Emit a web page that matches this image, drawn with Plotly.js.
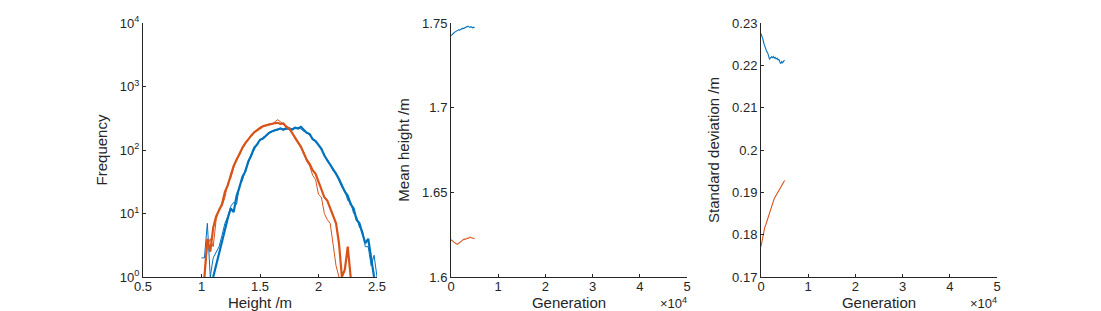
<!DOCTYPE html>
<html>
<head>
<meta charset="utf-8">
<script src="https://cdn.plot.ly/plotly-3.0.1.min.js"></script>
<style>html,body{margin:0;padding:0;background:#fff;}#chart{width:1101px;height:311px;}</style>
</head>
<body>
<div id="chart"></div>
<script>
// ---- Panel 1: height histograms (bin centres in m, counts) ----
const blueThickX = [1.100,1.125,1.150,1.175,1.200,1.225,1.250,1.275,1.300,1.325,1.350,1.375,1.400,1.425,1.450,1.475,1.500,1.525,1.550,1.575,1.600,1.625,1.650,1.675,1.700,1.725,1.750,1.775,1.800,1.825,1.850,1.875,1.900,1.925,1.950,1.975,2.000,2.025,2.050,2.075,2.100,2.125,2.150,2.175,2.200,2.225,2.250,2.275,2.300,2.325,2.350,2.375,2.400,2.425,2.450,2.475];
const blueThickY = [1,1.5,2.3,3.5,5.5,8.5,12,10.5,19,26,38,46,66,82,108,122,145,152,170,184,196,205,212,218,208,221,214,209,224,218,232,205,186,178,148,138,118,104,82,70,58,49,42,35,28,22,19,14,12,8,7,5,3.4,4,2,1];

const blueThinX = [1.000,1.025,1.050,1.075,1.100,1.125,1.150,1.175,1.200,1.225,1.250,1.275,1.300,1.325,1.350,1.375,1.400,1.425,1.450,1.475,1.500,1.525,1.550,1.575,1.600,1.625,1.650,1.675,1.700,1.725,1.750,1.775,1.800,1.825,1.850,1.875,1.900,1.925,1.950,1.975,2.000,2.025,2.050,2.075,2.100,2.125,2.150,2.175,2.200,2.225,2.250,2.275,2.300,2.325,2.350,2.375,2.400,2.425,2.450,2.475,2.500];
const blueThinY = [2,2,7,1,2,2.5,3,4.5,7,9,13,15,14,28,33,50,62,86,100,125,140,158,165,190,192,210,205,220,214,210,225,215,228,222,215,196,190,170,152,132,122,100,86,66,60,47,44,33,26,23,16,15,10,9,6,5.5,3,3,1.5,2.2,1];

const orangeThickX = [1.025,1.050,1.075,1.100,1.125,1.150,1.175,1.200,1.225,1.250,1.275,1.300,1.325,1.350,1.375,1.400,1.425,1.450,1.475,1.500,1.525,1.550,1.575,1.600,1.625,1.650,1.675,1.700,1.725,1.750,1.775,1.800,1.825,1.850,1.875,1.900,1.925,1.950,1.975,2.000,2.025,2.050,2.075,2.100,2.125,2.150,2.175,2.200,2.225,2.250,2.275];
const orangeThickY = [1,4,2.5,6,9,11,14,22,28,40,56,70,88,108,128,150,168,190,205,225,236,244,252,262,264,268,258,262,232,218,186,160,134,112,88,70,60,48,42,32,24,18,16,12,9,7,3.4,1,1.3,3,1];

const orangeThinX = [1.025,1.050,1.075,1.100,1.125,1.150,1.175,1.200,1.225,1.250,1.275,1.300,1.325,1.350,1.375,1.400,1.425,1.450,1.475,1.500,1.525,1.550,1.575,1.600,1.625,1.650,1.675,1.700,1.725,1.750,1.775,1.800,1.825,1.850,1.875,1.900,1.925,1.950,1.975,2.000,2.025,2.050,2.075,2.100,2.125,2.150,2.175];
const orangeThinY = [1,3,4,3,8,12,13,18,30,36,52,74,82,112,132,145,175,185,210,230,238,240,258,255,275,300,280,250,240,205,190,150,128,106,92,66,56,40,34,20,18,10,8,7,3,1.5,1];

// ---- Panels 2 & 3: statistics vs generation ----
const generation = [0,200,400,600,800,1000,1200,1400,1600,1800,2000,2200,2400,2600,2800,3000,3200,3400,3600,3800,4000,4200,4400,4600,4800,5000];
const meanBlue = [1.7425,1.7432,1.7438,1.7441,1.7446,1.7450,1.7452,1.7457,1.7460,1.7458,1.7463,1.7466,1.7468,1.7467,1.7470,1.7469,1.7473,1.7478,1.7481,1.7477,1.7474,1.7478,1.7475,1.7472,1.7476,1.7472];
const meanOrange = [1.6220,1.6218,1.6212,1.6206,1.6201,1.6197,1.6195,1.6194,1.6199,1.6203,1.6208,1.6212,1.6216,1.6222,1.6225,1.6221,1.6226,1.6230,1.6227,1.6232,1.6236,1.6233,1.6230,1.6232,1.6228,1.6226];
const sdBlue = [0.2275,0.2270,0.2262,0.2252,0.2244,0.2240,0.2233,0.2230,0.2222,0.2215,0.2217,0.2220,0.2218,0.2221,0.2217,0.2219,0.2215,0.2217,0.2213,0.2214,0.2208,0.2204,0.2209,0.2206,0.2210,0.2212];
const sdOrange = [0.1772,0.1785,0.1800,0.1814,0.1818,0.1823,0.1830,0.1838,0.1846,0.1855,0.1860,0.1864,0.1872,0.1879,0.1885,0.1889,0.1893,0.1898,0.1902,0.1906,0.1911,0.1914,0.1918,0.1922,0.1926,0.1928];

// tick labels
const freqTickVals = [1,10,100,1000,10000];
const freqTickText = ['10<sup>0</sup>','10<sup>1</sup>','10<sup>2</sup>','10<sup>3</sup>','10<sup>4</sup>'];
const heightTicks = [0.5,1,1.5,2,2.5];
const heightTickText = ['0.5','1','1.5','2','2.5'];
const genTickVals = [0,10000,20000,30000,40000,50000];
const genTickText = ['0','1','2','3','4','5'];
const meanTickVals = [1.6,1.65,1.7,1.75];
const meanTickText = ['1.6','1.65','1.7','1.75'];
const sdTickVals = [0.17,0.18,0.19,0.2,0.21,0.22,0.23];
const sdTickText = ['0.17','0.18','0.19','0.2','0.21','0.22','0.23'];

const BLUE = '#0072BD', ORANGE = '#D95319';
const AX = '#262626';
const FONT = 'Liberation Sans, Arial, Helvetica, sans-serif';

const traces = [
  {x: blueThickX, y: blueThickY, xaxis:'x', yaxis:'y', mode:'lines', line:{color:BLUE, width:2.2}},
  {x: blueThinX, y: blueThinY, xaxis:'x', yaxis:'y', mode:'lines', line:{color:BLUE, width:1}},
  {x: orangeThickX, y: orangeThickY, xaxis:'x', yaxis:'y', mode:'lines', line:{color:ORANGE, width:2.2}},
  {x: orangeThinX, y: orangeThinY, xaxis:'x', yaxis:'y', mode:'lines', line:{color:ORANGE, width:1}},
  {x: generation, y: meanBlue, xaxis:'x2', yaxis:'y2', mode:'lines', line:{color:BLUE, width:1.1}},
  {x: generation, y: meanOrange, xaxis:'x2', yaxis:'y2', mode:'lines', line:{color:ORANGE, width:1.1}},
  {x: generation, y: sdBlue, xaxis:'x3', yaxis:'y3', mode:'lines', line:{color:BLUE, width:1.1}},
  {x: generation, y: sdOrange, xaxis:'x3', yaxis:'y3', mode:'lines', line:{color:ORANGE, width:1.1}}
];

function axBase(extra){
  return Object.assign({
    showline:true, linecolor:AX, linewidth:1, mirror:false,
    ticks:'inside', ticklen:3, tickwidth:1, tickcolor:AX,
    showgrid:false, zeroline:false,
    tickfont:{family:FONT, size:13, color:AX},
    fixedrange:true
  }, extra);
}
const titleFont = {family:FONT, size:15, color:AX};
const yDom = [34/311, 288/311];

const layout = {
  width:1101, height:311,
  margin:{l:0,r:0,t:0,b:0},
  paper_bgcolor:'#fff', plot_bgcolor:'#fff',
  showlegend:false,
  xaxis: axBase({domain:[143/1101,377/1101], anchor:'y', range:[0.5,2.5], tickvals:heightTicks, ticktext:heightTickText,
    ticklabelstandoff:-3, title:{text:'Height /m', font:titleFont, standoff:1}}),
  yaxis: axBase({domain:yDom, anchor:'x', type:'log', range:[0,4], tickvals:freqTickVals, ticktext:freqTickText,
    title:{text:'Frequency', font:titleFont, standoff:8}}),
  xaxis2: axBase({domain:[451/1101,687/1101], anchor:'y2', range:[0,50000], tickvals:genTickVals, ticktext:genTickText,
    ticklabelstandoff:-3, title:{text:'Generation', font:titleFont, standoff:1}}),
  yaxis2: axBase({domain:yDom, anchor:'x2', range:[1.6,1.75], tickvals:meanTickVals, ticktext:meanTickText,
    title:{text:'Mean height /m', font:titleFont, standoff:8}}),
  xaxis3: axBase({domain:[761/1101,997/1101], anchor:'y3', range:[0,50000], tickvals:genTickVals, ticktext:genTickText,
    ticklabelstandoff:-3, title:{text:'Generation', font:titleFont, standoff:1}}),
  yaxis3: axBase({domain:yDom, anchor:'x3', range:[0.17,0.23], tickvals:sdTickVals, ticktext:sdTickText,
    title:{text:'Standard deviation /m', font:titleFont, standoff:8}}),
  annotations: [
    {xref:'paper', yref:'paper', x:689/1101, y:(311-293)/311, xanchor:'right', yanchor:'top', showarrow:false,
     text:'×10<sup>4</sup>', font:{family:FONT, size:13, color:AX}},
    {xref:'paper', yref:'paper', x:999/1101, y:(311-293)/311, xanchor:'right', yanchor:'top', showarrow:false,
     text:'×10<sup>4</sup>', font:{family:FONT, size:13, color:AX}}
  ]
};

Plotly.newPlot('chart', traces, layout, {displayModeBar:false, staticPlot:true});
</script>
</body>
</html>
